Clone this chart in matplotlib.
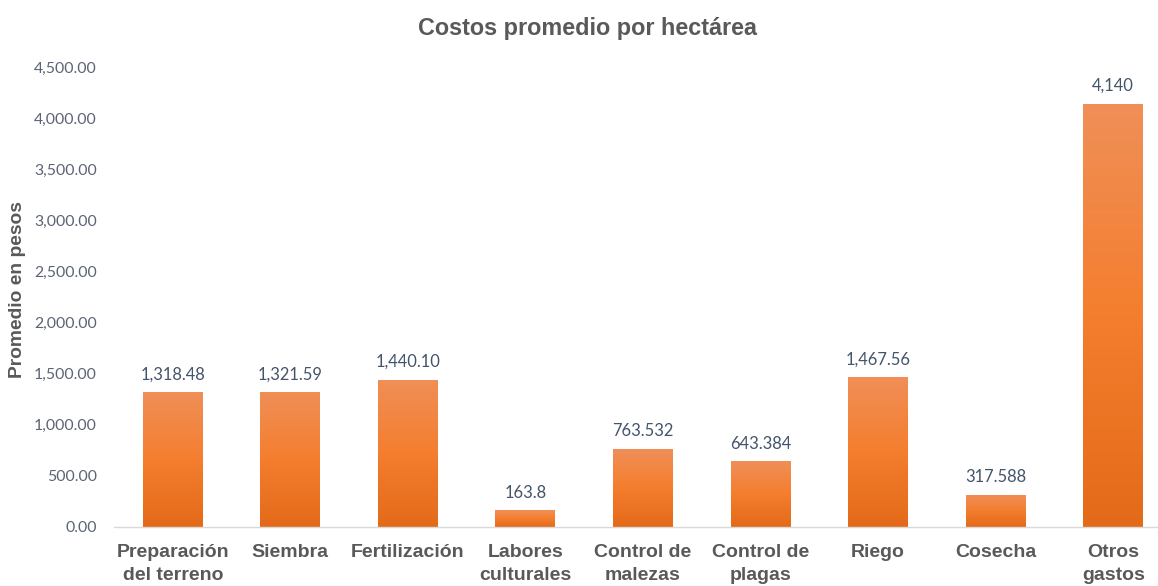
import numpy as np
import matplotlib
matplotlib.use("Agg")
import matplotlib.pyplot as plt
from matplotlib.colors import LinearSegmentedColormap
from matplotlib.ticker import FuncFormatter

categories = ["Preparación\ndel terreno", "Siembra", "Fertilización", "Labores\nculturales",
              "Control de\nmalezas", "Control de\nplagas", "Riego", "Cosecha", "Otros\ngastos"]
values = [1318.48, 1321.59, 1440.10, 163.8, 763.532, 643.384, 1467.56, 317.588, 4140]
value_labels = ["1,318.48", "1,321.59", "1,440.10", "163.8", "763.532", "643.384",
                "1,467.56", "317.588", "4,140"]
title = "Costos promedio por hectárea"
ylabel = "Promedio en pesos"

W, H = 1158, 586
fig = plt.figure(figsize=(W / 100, H / 100), dpi=100)
ax = fig.add_axes([114 / W, 1 - 527 / H, (1172 - 114) / W, 460 / H])

x = np.arange(len(categories))
bars = ax.bar(x, values, width=0.51, color="none", edgecolor="none", zorder=2)

cmap = LinearSegmentedColormap.from_list("og", ["#E36A19", "#F47E2E", "#F08F58"])
grad = np.linspace(0, 1, 256).reshape(-1, 1)
for b in bars:
    x0, y0 = b.get_x(), b.get_y()
    w, h = b.get_width(), b.get_height()
    im = ax.imshow(grad, cmap=cmap, origin="lower", aspect="auto",
                   extent=[x0, x0 + w, y0, y0 + h], zorder=2, interpolation="bilinear")
    im.set_clip_path(b)

ax.set_xlim(-0.5, len(categories) - 0.5)
ax.set_ylim(0, 4500)
ax.set_yticks(np.arange(0, 4501, 500))
ax.yaxis.set_major_formatter(FuncFormatter(lambda v, p: f"{v:,.2f}"))

for s in ["top", "right", "left"]:
    ax.spines[s].set_visible(False)
ax.spines["bottom"].set_color("#D9D9D9")
ax.spines["bottom"].set_linewidth(1.0)
ax.spines["bottom"].set_zorder(3)

ax.tick_params(axis="y", length=0, pad=12.5, labelsize=11.4, labelcolor="#5B6475")
ax.tick_params(axis="x", length=0, pad=12)
for t in ax.get_yticklabels():
    t.set_family("Lato")

ax.set_xticks(x)
ax.set_xticklabels(categories, fontsize=14, fontweight="bold", color="#595959",
                   family="Liberation Sans", linespacing=1.45, va="top")

for xi, v, lab in zip(x, values, value_labels):
    ax.annotate(lab, (xi, v), xytext=(0, 7), textcoords="offset points",
                ha="center", va="bottom", fontsize=11.9, color="#44546A", family="Lato")

fig.text(587 / W, 1 - 28 / H, title, ha="center", va="center", fontsize=16.8,
         fontweight="bold", color="#595959", family="Liberation Sans")
fig.text(18 / W, 1 - 290 / H, ylabel, ha="center", va="center", rotation=90,
         fontsize=13.9, fontweight="bold", color="#595959", family="Liberation Sans")

fig.savefig("out.png", dpi=100)
